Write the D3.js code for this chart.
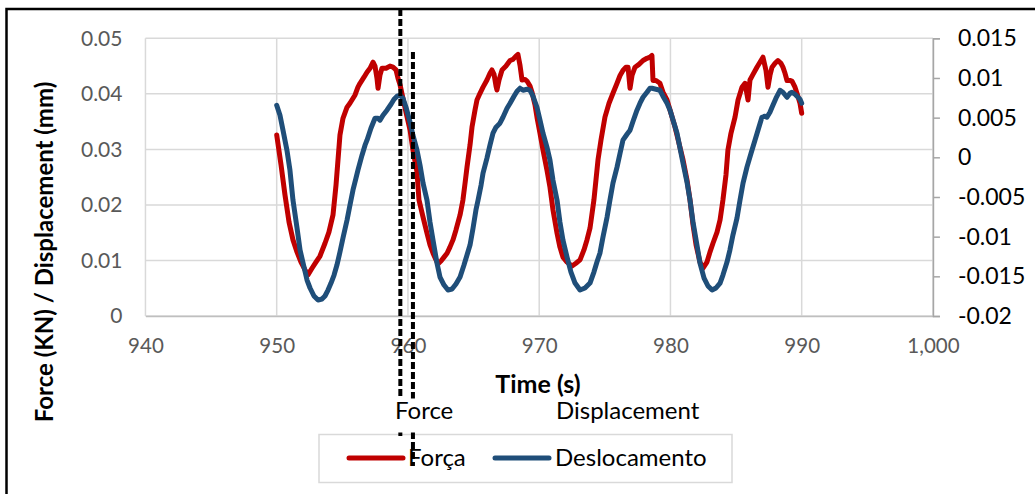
<!DOCTYPE html>
<html>
<head>
<meta charset="utf-8">
<script src="https://cdn.jsdelivr.net/npm/d3@7"></script>
<style>
  body { margin: 0; background: #fff; }
  svg { display: block; }
  text { font-family: Lato, "Open Sans", sans-serif; }
</style>
</head>
<body>
<svg id="chart" width="1035" height="494"></svg>
<script>
// Axis ticks
const timeTicks = [940, 950, 960, 970, 980, 990, 1000];
const forceTicks = [0, 0.01, 0.02, 0.03, 0.04, 0.05];
const dispTicks = [-0.02, -0.015, -0.01, -0.005, 0, 0.005, 0.01, 0.015];

// Series names
const seriesNames = ["Força", "Deslocamento"];
const seriesColors = ["#c00000", "#1f4e79"];

// Force (kN) against time (s)
const forceTime = [950.00,950.33,950.63,950.94,951.24,951.55,951.85,952.16,952.38,952.69,952.99,953.30,953.68,953.98,954.29,954.52,954.67,954.82,955.05,955.36,955.58,955.97,956.19,956.35,956.65,956.88,957.11,957.34,957.49,957.64,957.72,957.87,958.02,958.33,958.63,958.86,959.09,959.24,959.39,959.62,959.85,960.16,960.38,960.69,960.84,961.15,961.45,961.68,961.91,962.14,962.29,962.52,962.75,962.98,963.20,963.43,963.66,963.97,964.19,964.35,964.50,964.73,964.88,965.11,965.26,965.49,965.72,966.02,966.25,966.40,966.56,966.71,966.78,966.94,967.17,967.47,967.78,968.00,968.23,968.38,968.54,968.69,968.92,969.07,969.30,969.45,969.68,969.83,970.06,970.29,970.59,970.82,971.05,971.36,971.58,971.81,972.12,972.50,972.80,973.11,973.41,973.64,973.87,974.17,974.48,974.71,975.01,975.32,975.62,975.93,976.16,976.38,976.61,976.77,976.92,977.07,977.30,977.60,977.91,978.21,978.44,978.59,978.67,978.90,979.20,979.43,979.74,980.04,980.35,980.65,980.96,981.26,981.49,981.72,981.95,982.25,982.48,982.78,983.01,983.24,983.55,983.78,984.00,984.23,984.38,984.61,984.92,985.15,985.45,985.68,985.91,986.06,986.29,986.59,986.82,987.05,987.28,987.43,987.58,987.74,987.97,988.19,988.42,988.57,988.73,988.88,989.11,989.26,989.49,989.64,989.87,990.00];
const forceKN = [0.0326,0.0272,0.0218,0.0169,0.0137,0.0115,0.0097,0.0083,0.0074,0.0086,0.0097,0.0108,0.0131,0.0151,0.0182,0.0236,0.0281,0.0326,0.0356,0.0376,0.0383,0.0398,0.0412,0.0419,0.0430,0.0439,0.0446,0.0457,0.0450,0.0428,0.0410,0.0434,0.0446,0.0446,0.0450,0.0448,0.0443,0.0428,0.0417,0.0392,0.0367,0.0335,0.0299,0.0259,0.0209,0.0178,0.0149,0.0128,0.0113,0.0101,0.0094,0.0099,0.0106,0.0113,0.0124,0.0137,0.0155,0.0182,0.0209,0.0239,0.0268,0.0308,0.0340,0.0371,0.0389,0.0401,0.0412,0.0425,0.0437,0.0443,0.0435,0.0414,0.0407,0.0425,0.0443,0.0450,0.0460,0.0462,0.0468,0.0471,0.0451,0.0425,0.0426,0.0423,0.0414,0.0403,0.0380,0.0358,0.0329,0.0299,0.0263,0.0232,0.0191,0.0149,0.0124,0.0106,0.0097,0.0090,0.0095,0.0101,0.0119,0.0137,0.0158,0.0209,0.0281,0.0317,0.0358,0.0383,0.0401,0.0419,0.0433,0.0442,0.0448,0.0448,0.0410,0.0433,0.0448,0.0453,0.0460,0.0464,0.0466,0.0469,0.0424,0.0424,0.0419,0.0403,0.0389,0.0365,0.0340,0.0311,0.0281,0.0245,0.0209,0.0164,0.0128,0.0097,0.0086,0.0097,0.0115,0.0131,0.0151,0.0173,0.0209,0.0254,0.0299,0.0329,0.0358,0.0389,0.0412,0.0419,0.0389,0.0425,0.0435,0.0448,0.0457,0.0466,0.0442,0.0412,0.0433,0.0448,0.0455,0.0460,0.0455,0.0448,0.0437,0.0424,0.0424,0.0423,0.0412,0.0401,0.0383,0.0365];

// Displacement (mm) against time (s)
const dispTime = [950.00,950.25,950.48,950.78,951.01,951.24,951.55,951.78,952.08,952.31,952.54,952.84,953.15,953.45,953.68,953.91,954.14,954.37,954.59,954.82,955.05,955.36,955.58,955.81,956.04,956.19,956.50,956.73,956.88,957.18,957.49,957.72,957.87,958.10,958.40,958.71,958.94,959.17,959.39,959.62,959.85,960.16,960.38,960.69,960.92,961.15,961.45,961.68,961.91,962.21,962.44,962.75,963.05,963.36,963.66,963.97,964.27,964.50,964.73,964.96,965.18,965.34,965.57,965.72,966.02,966.25,966.48,966.71,967.01,967.24,967.55,967.78,968.08,968.31,968.54,968.77,969.07,969.30,969.53,969.83,970.06,970.29,970.59,970.82,971.05,971.36,971.58,971.81,972.12,972.42,972.73,973.11,973.49,973.87,974.17,974.40,974.63,974.86,975.17,975.39,975.62,975.93,976.16,976.38,976.69,976.92,977.15,977.45,977.68,977.91,978.21,978.44,978.59,978.90,979.20,979.43,979.74,979.97,980.20,980.50,980.73,980.96,981.26,981.49,981.72,982.02,982.25,982.56,982.86,983.17,983.47,983.78,984.00,984.31,984.53,984.76,985.07,985.30,985.53,985.83,986.14,986.44,986.67,986.97,987.20,987.35,987.58,987.74,988.04,988.35,988.57,988.88,989.11,989.26,989.49,989.72,989.87,990.00];
const dispMM = [0.00656,0.00531,0.00342,0.00090,-0.00162,-0.00540,-0.00892,-0.01169,-0.01383,-0.01547,-0.01647,-0.01748,-0.01799,-0.01786,-0.01748,-0.01673,-0.01585,-0.01484,-0.01358,-0.01194,-0.01018,-0.00791,-0.00603,-0.00414,-0.00263,-0.00162,0.00027,0.00153,0.00216,0.00367,0.00493,0.00493,0.00468,0.00531,0.00594,0.00669,0.00732,0.00770,0.00782,0.00745,0.00631,0.00442,0.00279,0.00090,-0.00099,-0.00326,-0.00540,-0.00817,-0.01043,-0.01333,-0.01509,-0.01610,-0.01673,-0.01660,-0.01597,-0.01509,-0.01358,-0.01232,-0.01106,-0.00892,-0.00665,-0.00540,-0.00351,-0.00200,-0.00011,0.00153,0.00304,0.00380,0.00430,0.00505,0.00619,0.00682,0.00770,0.00833,0.00871,0.00845,0.00858,0.00845,0.00770,0.00631,0.00468,0.00304,0.00128,-0.00036,-0.00288,-0.00540,-0.00817,-0.01043,-0.01257,-0.01446,-0.01585,-0.01673,-0.01647,-0.01585,-0.01446,-0.01320,-0.01207,-0.01005,-0.00754,-0.00540,-0.00326,-0.00124,0.00052,0.00216,0.00291,0.00342,0.00455,0.00594,0.00682,0.00757,0.00820,0.00871,0.00871,0.00858,0.00845,0.00770,0.00682,0.00594,0.00468,0.00304,0.00115,-0.00074,-0.00313,-0.00540,-0.00817,-0.01106,-0.01333,-0.01522,-0.01622,-0.01673,-0.01647,-0.01585,-0.01484,-0.01320,-0.01169,-0.00980,-0.00766,-0.00540,-0.00326,-0.00124,0.00052,0.00216,0.00342,0.00505,0.00518,0.00505,0.00568,0.00631,0.00745,0.00845,0.00820,0.00757,0.00807,0.00820,0.00795,0.00757,0.00732,0.00682];

// Vertical marker lines and their captions
const markerTimes = [959.42, 960.38];
const markerLabels = ["Force", "Displacement"];

const svg = d3.select("#chart");

// Outer frame
svg.append("rect")
  .attr("x", 6.5).attr("y", 9).attr("width", 1200).attr("height", 700)
  .attr("fill", "none").attr("stroke", "#000").attr("stroke-width", 2.5);

const plot = { left: 145.45, right: 932.95, top: 38.3, bottom: 316 };

const x = d3.scaleLinear().domain([940, 1000]).range([plot.left, plot.right]);
const yL = d3.scaleLinear().domain([0, 0.05]).range([plot.bottom, plot.top]);
const yR = d3.scaleLinear().domain([-0.02, 0.015]).range([plot.bottom, plot.top]);

// Gridlines
const grid = svg.append("g").attr("stroke", "#d9d9d9").attr("stroke-width", 1.5);
grid.selectAll("line.h").data(forceTicks).join("line")
  .attr("x1", plot.left).attr("x2", plot.right)
  .attr("y1", d => yL(d)).attr("y2", d => yL(d));
grid.selectAll("line.v").data(timeTicks).join("line")
  .attr("x1", d => x(d)).attr("x2", d => x(d))
  .attr("y1", plot.top).attr("y2", plot.bottom);

// Bottom axis
const xAxis = svg.append("g")
  .attr("transform", `translate(0,${plot.bottom})`)
  .call(d3.axisBottom(x).tickValues(timeTicks).tickSize(0).tickPadding(22).tickFormat(d3.format(",")));
xAxis.select(".domain").attr("stroke", "#bfbfbf").attr("stroke-width", 1.5);
xAxis.selectAll("text").attr("font-size", 20.5).attr("fill", "#595959").attr("font-family", "Lato");

// Left axis
const yAxisL = svg.append("g")
  .attr("transform", `translate(${plot.left},0)`)
  .call(d3.axisLeft(yL).tickValues(forceTicks).tickSize(0).tickPadding(23)
    .tickFormat(d => d === 0 ? "0" : d.toFixed(2)));
yAxisL.select(".domain").remove();
yAxisL.selectAll("text").attr("font-size", 21).attr("fill", "#595959").attr("font-family", "Lato");

// Right axis
const yAxisR = svg.append("g")
  .attr("transform", `translate(${plot.right},0)`)
  .call(d3.axisRight(yR).tickValues(dispTicks).tickSize(7).tickPadding(18)
    .tickFormat(d => d === 0 ? "0" : String(+d.toFixed(3))));
yAxisR.select(".domain").attr("stroke", "#a6a6a6").attr("stroke-width", 1.5);
yAxisR.selectAll(".tick line").attr("stroke", "#a6a6a6").attr("stroke-width", 1.5);
yAxisR.selectAll("text").attr("font-size", 23).attr("fill", "#000").attr("font-family", "Lato");

// Series
const forceData = forceTime.map((t, i) => [t, forceKN[i]]);
const dispData = dispTime.map((t, i) => [t, dispMM[i]]);

svg.append("path")
  .datum(forceData)
  .attr("fill", "none").attr("stroke", seriesColors[0]).attr("stroke-width", 5)
  .attr("stroke-linejoin", "round").attr("stroke-linecap", "round")
  .attr("d", d3.line().x(d => x(d[0])).y(d => yL(d[1])));

svg.append("path")
  .datum(dispData)
  .attr("fill", "none").attr("stroke", seriesColors[1]).attr("stroke-width", 5)
  .attr("stroke-linejoin", "round").attr("stroke-linecap", "round")
  .attr("d", d3.line().x(d => x(d[0])).y(d => yR(d[1])));

// Axis titles
svg.append("text")
  .attr("transform", "translate(53,252) rotate(-90)")
  .attr("text-anchor", "middle").attr("font-weight", "bold").attr("font-size", 24)
  .attr("fill", "#000").text("Force (KN) / Displacement (mm)");

svg.append("text")
  .attr("x", 538).attr("y", 393)
  .attr("text-anchor", "middle").attr("font-weight", "bold").attr("font-size", 25)
  .attr("fill", "#000").text("Time (s)");

// Legend box
const legend = svg.append("g");
legend.append("rect")
  .attr("x", 319).attr("y", 434.5).attr("width", 413).attr("height", 48)
  .attr("fill", "#fff").attr("stroke", "#d9d9d9").attr("stroke-width", 1.5);

// Dashed marker lines
const markerSpans = [[9, 437], [52, 466]];
svg.selectAll("line.marker").data(markerTimes).join("line")
  .attr("x1", d => x(d)).attr("x2", d => x(d))
  .attr("y1", (d, i) => markerSpans[i][0]).attr("y2", (d, i) => markerSpans[i][1])
  .attr("stroke", "#000").attr("stroke-width", 4).attr("stroke-dasharray", "7,3");

// Caption box for the marker labels
svg.append("rect")
  .attr("x", 388).attr("y", 398.5).attr("width", 80).attr("height", 34).attr("fill", "#fff");

const captionX = [395, 556];
svg.selectAll("text.caption").data(markerLabels).join("text")
  .attr("x", (d, i) => captionX[i]).attr("y", 419)
  .attr("font-size", 24).attr("fill", "#000").text(d => d);

// Legend entries
const legendItems = [
  { name: seriesNames[0], color: seriesColors[0], x0: 349, x1: 403, tx: 408 },
  { name: seriesNames[1], color: seriesColors[1], x0: 495, x1: 549, tx: 555 }
];
legendItems.forEach(it => {
  legend.append("line")
    .attr("x1", it.x0).attr("x2", it.x1).attr("y1", 458).attr("y2", 458)
    .attr("stroke", it.color).attr("stroke-width", 5).attr("stroke-linecap", "round");
  svg.append("text")
    .attr("x", it.tx).attr("y", 466)
    .attr("font-size", 24).attr("fill", "#000").text(it.name);
});
</script>
</body>
</html>
